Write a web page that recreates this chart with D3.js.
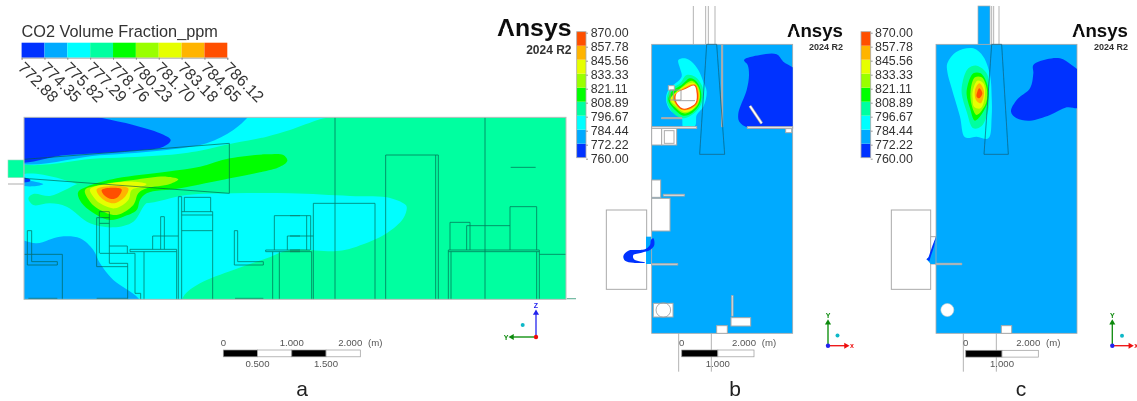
<!DOCTYPE html>
<html>
<head>
<meta charset="utf-8">
<script src="https://cdn.jsdelivr.net/npm/d3@7"></script>
<style>
    html, body { margin: 0; padding: 0; background: #fff; }
    text { font-family: "Liberation Sans", Arial, sans-serif; }
</style>
</head>
<body>
<svg id="target"></svg>
<script>
// Colours of the nine contour bands, low to high
let bandColors = ["#0033ff", "#00aaff", "#00ffff", "#00ffa0", "#00ff00", "#99ff00", "#e6ff00", "#ffb400", "#ff5000"];

// Legend of panel a
let legendTicksA = ["772.88", "774.35", "775.82", "777.29", "778.76", "780.23", "781.70", "783.18", "784.65", "786.12"];
// Legend of panels b and c
let legendTicksBC = [760, 772.22, 784.44, 796.67, 808.89, 821.11, 833.33, 845.56, 857.78, 870];

// Scale bar values
let scaleBlocksA = [[0, 0.5, "#000"], [0.5, 1, "#fff"], [1, 1.5, "#000"], [1.5, 2, "#fff"]];
let scaleBlocksBC = [[0, 1, "#000"], [1, 2, "#fff"]];
let panelLetters = ["a", "b", "c"];

function crop(x0, y0) {
    return {
        x: d3.scaleLinear().domain([0, 3]).range([x0, x0 + 1]),
        y: d3.scaleLinear().domain([0, 3]).range([y0, y0 + 1])
    };
}
let frameA = crop(0, 110), frameA2 = crop(290, 110);
let frameB = crop(600, 0), frameB2 = crop(600, 180), frameHot = crop(650, 50), frameVent = crop(600, 230);
let frameC = crop(860, 0), frameC2 = crop(860, 190);

// Panel a contours, painted in this order over a band 3 background
let aCyanTop = [[40, 150], [300, 145], [500, 135], [600, 122], [700, 100], [800, 80], [870, 60], [960, 28], [1000, 18], [1020, 0], [40, 0]];
let aSkyTop = [[40, 150], [300, 136], [500, 120], [620, 100], [700, 60], [745, 20], [760, 0], [40, 0]];
let aBlueTop = [[40, 150], [200, 135], [400, 122], [490, 110], [512, 90], [480, 70], [400, 45], [310, 25], [250, 10], [40, 10]];
let aCyanLow = [[40, 205], [240, 225], [300, 260], [430, 280], [560, 255], [700, 250], [870, 250], [1050, 258], [1160, 262], [1210, 280], [1220, 290], [1210, 325], [1160, 370], [1070, 410], [1010, 423], [870, 420], [800, 445], [700, 480], [600, 520], [550, 560], [535, 620], [40, 620]];
let aSkyLow = [[40, 392], [110, 400], [180, 380], [240, 385], [280, 420], [300, 460], [340, 510], [415, 565], [440, 620], [40, 620]];
let aBlueSmall = [[50, 202], [90, 208], [90, 214], [50, 214]];
let aSkySmall = [[60, 212], [130, 222], [100, 229], [60, 224]];
let aBand3 = [[85, 265], [100, 252], [150, 258], [195, 240], [240, 220], [300, 215], [440, 240], [450, 265], [430, 290], [400, 335], [340, 352], [270, 340], [200, 290], [150, 280], [100, 285]];
let aBand4 = [[235, 245], [260, 230], [350, 205], [500, 185], [600, 170], [690, 145], [800, 133], [850, 135], [862, 152], [840, 170], [780, 187], [690, 205], [540, 235], [440, 250], [420, 270], [410, 300], [370, 320], [330, 330], [290, 315], [250, 285], [235, 260]];
let aBand5 = [[255, 240], [300, 225], [400, 210], [500, 200], [535, 208], [510, 222], [440, 235], [415, 250], [400, 285], [350, 315], [300, 300], [270, 275]];
let aBand6 = [[270, 238], [320, 222], [400, 215], [440, 222], [420, 232], [395, 240], [385, 270], [345, 295], [300, 280], [280, 260]];
let aBand7 = [[290, 238], [340, 228], [385, 235], [375, 260], [340, 280], [305, 265]];
let aBand8 = [[305, 240], [335, 233], [365, 238], [355, 260], [335, 267], [315, 258]];

// Panel a wireframe, [x1, y1, x2, y2] in crop units
let aWireLeft = [
    [72, 148, 688, 100], [688, 100, 688, 250], [688, 250, 72, 205],
    [82, 362, 95, 362], [95, 362, 95, 455], [95, 455, 172, 455], [172, 455, 172, 465], [172, 465, 82, 465], [82, 465, 82, 362],
    [72, 433, 187, 433], [187, 433, 187, 568], [85, 565, 172, 565],
    [298, 305, 328, 305], [298, 305, 298, 430], [328, 305, 328, 460], [290, 323, 328, 323], [290, 323, 290, 470], [290, 470, 383, 470],
    [298, 340, 328, 340], [328, 408, 382, 408], [382, 408, 382, 430], [300, 430, 405, 430], [405, 430, 405, 550], [328, 460, 383, 460],
    [383, 460, 383, 568], [290, 565, 383, 565], [405, 550, 422, 550], [422, 550, 422, 568],
    [390, 418, 530, 418], [530, 418, 530, 425], [530, 425, 390, 425], [390, 425, 390, 418], [432, 425, 432, 568], [530, 425, 530, 568],
    [458, 418, 458, 378], [458, 378, 535, 378], [482, 320, 482, 418], [493, 320, 493, 418], [482, 320, 493, 320],
    [535, 260, 545, 260], [535, 260, 535, 568], [545, 260, 545, 568], [545, 305, 638, 305], [545, 315, 638, 315], [638, 305, 638, 568],
    [553, 262, 632, 262], [553, 262, 553, 305], [632, 262, 632, 305], [545, 362, 638, 362],
    [703, 362, 713, 362], [713, 362, 713, 455], [713, 455, 790, 455], [790, 455, 790, 465], [790, 465, 703, 465], [703, 465, 703, 362], [705, 565, 790, 565],
    [823, 317, 900, 317], [823, 317, 823, 420], [862, 378, 900, 378], [862, 378, 862, 420], [797, 420, 900, 420], [797, 425, 900, 425], [797, 420, 797, 425],
    [818, 425, 818, 568], [838, 425, 838, 568]
];
let aWireRight = [
    [0, 420, 60, 420], [0, 425, 65, 425], [65, 425, 65, 568], [70, 280, 70, 568], [50, 317, 50, 420], [62, 317, 62, 420], [0, 317, 62, 317], [0, 378, 70, 378],
    [70, 280, 255, 280], [255, 280, 255, 568], [135, 22, 135, 568],
    [287, 135, 445, 135], [287, 135, 287, 568], [437, 135, 437, 568], [445, 135, 445, 568],
    [480, 337, 540, 337], [480, 337, 480, 420], [540, 337, 540, 420], [530, 347, 660, 347], [530, 347, 530, 420],
    [660, 290, 740, 290], [660, 290, 660, 420], [740, 290, 740, 420], [475, 420, 748, 420], [475, 425, 748, 425], [475, 420, 475, 568], [483, 425, 483, 568],
    [740, 425, 740, 568], [748, 420, 748, 568], [748, 433, 828, 433], [585, 22, 585, 568], [662, 172, 737, 172]
];
let aTail = [[830, 566, 858, 566]];

// Panel b contours
let bBlue = [[432, 180], [480, 165], [530, 163], [550, 185], [590, 215], [590, 378], [570, 383], [445, 383], [418, 365], [415, 340], [440, 270], [447, 225], [443, 195]];
let bHotBands = [
    [2, [[85, 30], [105, 25], [125, 35], [145, 60], [160, 95], [170, 125], [160, 170], [140, 195], [135, 228], [100, 232], [95, 205], [60, 180], [48, 150], [55, 120], [95, 80], [90, 55]]],
    [3, [[110, 75], [135, 80], [155, 105], [160, 135], [150, 170], [125, 195], [100, 205], [70, 190], [50, 150], [60, 120], [90, 100]]],
    [4, [[120, 85], [140, 95], [153, 125], [150, 160], [125, 190], [100, 197], [75, 180], [55, 150], [65, 125], [95, 105]]],
    [5, [[125, 92], [145, 110], [150, 135], [143, 165], [120, 185], [100, 190], [75, 172], [60, 150], [95, 112]]],
    [6, [[130, 98], [146, 120], [147, 150], [125, 180], [100, 185], [78, 168], [62, 148], [100, 110]]],
    [7, [[135, 103], [146, 125], [143, 160], [120, 178], [95, 180], [75, 160], [70, 140], [105, 112]]],
    [8, [[135, 105], [144, 130], [140, 160], [118, 176], [95, 178], [75, 155], [75, 135], [108, 113]]]
];
let bHotHole = [[133, 107], [140, 130], [137, 158], [115, 173], [97, 175], [78, 153], [80, 130], [108, 116]];
let bVentBlue = [[160, 25], [163, 45], [150, 60], [125, 68], [100, 75], [102, 88], [135, 98], [100, 98], [75, 92], [70, 78], [85, 62], [110, 60], [135, 58], [150, 45], [153, 30]];

// Panel b solids, [x1, y1, x2, y2]
let bBoxes = [[155, 385, 185, 435], [185, 385, 230, 435], [193, 392, 222, 430], [557, 386, 575, 398], [442, 380, 578, 385], [155, 380, 290, 385], [185, 353, 245, 356], [365, 135, 368, 380]];
let bBoxes2 = [[19, 90, 140, 328], [155, 0, 182, 52], [155, 55, 210, 153], [190, 43, 253, 48], [155, 251, 233, 255], [160, 370, 219, 411], [395, 347, 399, 408], [393, 413, 452, 438], [350, 437, 382, 460]];
let bGrey = [[280, 18, 280, 133], [317, 18, 317, 133], [325, 18, 325, 133], [345, 18, 345, 133]];
let bGrey2 = [[236, 460, 236, 575], [334, 460, 334, 575]];
let bDuct = [[320, 133], [350, 133], [374, 463], [299, 463]];
let bSlant = [[450, 318, 485, 370]];
let bHotBoxes = [[55, 107, 73, 120]];
let bHotWire = [[60, 120, 93, 120], [93, 120, 93, 150], [93, 150, 60, 150], [60, 150, 60, 120], [70, 120, 70, 150], [72, 152, 135, 152]];

// Panel c contours
let cBlue = [[520, 195], [560, 178], [600, 175], [635, 195], [660, 220], [660, 322], [620, 322], [570, 345], [510, 362], [470, 355], [453, 335], [470, 300], [510, 265], [520, 220]];
let cBands = [
    [2, [[262, 190], [290, 155], [340, 145], [370, 170], [390, 225], [395, 290], [395, 350], [385, 415], [350, 410], [315, 412], [300, 350], [275, 265], [262, 215]]],
    [3, [[308, 245], [325, 205], [350, 197], [380, 220], [388, 290], [385, 330], [365, 378], [340, 385], [320, 335], [305, 280]]],
    [4, [[322, 260], [340, 220], [362, 220], [382, 255], [382, 310], [345, 362], [330, 325], [320, 285]]],
    [5, [[332, 270], [345, 232], [365, 232], [380, 265], [378, 310], [350, 345], [335, 315]]],
    [6, [[338, 275], [352, 242], [370, 250], [375, 285], [362, 325], [342, 320], [338, 295]]],
    [7, [[345, 270], [358, 250], [372, 275], [362, 310], [348, 300]]],
    [8, [[352, 275], [358, 265], [367, 280], [358, 295], [350, 290]]]
];
let cVentSky = [[228, 140], [212, 195], [200, 208], [212, 222], [228, 222]];
let cSliver = [[228, 140], [218, 165], [205, 203], [199, 208], [208, 214], [213, 197], [222, 170]];
let cDuct = [[395, 133], [425, 133], [445, 463], [372, 463]];
let cGrey = [[395, 18, 395, 133], [401, 18, 401, 133], [417, 18, 417, 133]];
let cGrey2 = [[310, 430, 310, 545], [409, 430, 409, 545]];
let cBoxes2 = [[94, 60, 212, 298], [212, 140, 228, 222], [228, 220, 305, 224], [424, 407, 455, 430]];

let svg = d3.select("#target").attr("width", 1137).attr("height", 401);
// The reference is a soft upscaled image, a small blur gets the same look
svg.append("filter").attr("id", "soft").append("feGaussianBlur").attr("stdDeviation", 0.6);
let root = svg.append("g").attr("filter", "url(#soft)");

function area(g, pts, frame, fill, closedLine) {
    let line = d3.line()
        .x(d => frame.x(d[0]))
        .y(d => frame.y(d[1]))
        .curve(closedLine ? d3.curveLinearClosed : d3.curveCatmullRomClosed);
    return g.append("path").attr("d", line(pts)).attr("fill", fill);
}

function wire(g, segs, frame, color, w) {
    g.append("g").selectAll("line")
        .data(segs)
        .enter()
        .append("line")
        .attr("x1", d => frame.x(d[0]))
        .attr("y1", d => frame.y(d[1]))
        .attr("x2", d => frame.x(d[2]))
        .attr("y2", d => frame.y(d[3]))
        .attr("stroke", color)
        .attr("stroke-width", w);
}

function boxes(g, list, frame) {
    g.append("g").selectAll("rect")
        .data(list)
        .enter()
        .append("rect")
        .attr("x", d => frame.x(d[0]))
        .attr("y", d => frame.y(d[1]))
        .attr("width", d => frame.x(d[2]) - frame.x(d[0]))
        .attr("height", d => frame.y(d[3]) - frame.y(d[1]))
        .attr("fill", "#fff")
        .attr("stroke", "#aaa")
        .attr("stroke-width", 1);
}

function logo(left, right, base, size, subBase, subSize) {
    let w = right - left;
    root.append("text").attr("x", left).attr("y", base)
        .attr("textLength", w).attr("lengthAdjust", "spacingAndGlyphs")
        .attr("font-size", size).attr("font-weight", "bold").attr("fill", "#111")
        .text("Ansys");
    // The logo A has no crossbar
    let midA = left + w * 0.12;
    root.append("rect").attr("x", midA - size * 0.13).attr("width", size * 0.26)
        .attr("y", base - size * 0.31).attr("height", size * 0.31)
        .attr("fill", "#fff");
    root.append("text").attr("x", right).attr("y", subBase)
        .attr("text-anchor", "end")
        .attr("font-size", subSize).attr("font-weight", "bold").attr("fill", "#333")
        .text("2024 R2");
}

// Vertical legend of panels b and c
function legendBC(barX, barW, labelX) {
    let y = d3.scaleLinear().domain([0, 9]).range([157.7, 31.7]);
    root.append("g").selectAll("rect")
        .data(bandColors)
        .enter()
        .append("rect")
        .attr("x", barX)
        .attr("width", barW)
        .attr("y", (d, i) => y(i + 1))
        .attr("height", (d, i) => y(i) - y(i + 1))
        .attr("fill", d => d);
    root.append("rect").attr("x", barX).attr("y", 31.7).attr("width", barW).attr("height", 126)
        .attr("fill", "none").attr("stroke", "#aaa").attr("stroke-width", 0.8);
    let labels = d3.scalePoint().domain(legendTicksBC.map(d => d.toFixed(2))).range([158.7, 32.7]);
    let axis = root.append("g")
        .attr("transform", "translate(" + (barX + barW) + ",0)")
        .call(d3.axisRight(labels).tickSize(2).tickPadding(labelX - barX - barW - 2));
    axis.select(".domain").remove();
    axis.selectAll("line").attr("stroke", "#999");
    axis.selectAll("text").attr("font-size", 12.4).attr("fill", "#333")
        .attr("font-family", "Liberation Sans");
}

function scaleBar(x0, x1, blocks, frameY, tops, bottoms) {
    let x = d3.scaleLinear().domain([0, 2]).range([x0, x1]);
    root.append("g").selectAll("rect")
        .data(blocks)
        .enter()
        .append("rect")
        .attr("x", d => x(d[0]))
        .attr("y", frameY)
        .attr("width", d => x(d[1]) - x(d[0]))
        .attr("height", 6.8)
        .attr("fill", d => d[2])
        .attr("stroke", "#999")
        .attr("stroke-width", 0.7);
    root.append("g").selectAll("text")
        .data(tops)
        .enter()
        .append("text")
        .attr("x", d => x(d[0]) + d[2])
        .attr("y", frameY - 4.5)
        .attr("text-anchor", "middle")
        .attr("font-size", 9.6).attr("fill", "#555")
        .text(d => d[1]);
    root.append("g").selectAll("text.low")
        .data(bottoms)
        .enter()
        .append("text")
        .attr("class", "low")
        .attr("x", d => x(d[0]))
        .attr("y", frameY + 17)
        .attr("text-anchor", "middle")
        .attr("font-size", 9.6).attr("fill", "#555")
        .text(d => d[1]);
}

function triad(ox, oy, hx, hy, hColor, hLabel, vColor, vLabel, dotX, dotY, oColor) {
    let g = root.append("g");
    g.append("line").attr("x1", ox).attr("y1", oy).attr("x2", ox + hx).attr("y2", oy).attr("stroke", hColor).attr("stroke-width", 1.3);
    g.append("line").attr("x1", ox).attr("y1", oy).attr("x2", ox).attr("y2", oy + hy).attr("stroke", vColor).attr("stroke-width", 1.3);
    let sym = d3.symbol().type(d3.symbolTriangle).size(16);
    g.append("path").attr("d", sym()).attr("fill", hColor)
        .attr("transform", "translate(" + (ox + hx) + "," + oy + ") rotate(" + (hx > 0 ? 90 : -90) + ")");
    g.append("path").attr("d", sym()).attr("fill", vColor)
        .attr("transform", "translate(" + ox + "," + (oy + hy) + ")");
    g.append("circle").attr("cx", ox).attr("cy", oy).attr("r", 2.2).attr("fill", oColor);
    g.append("circle").attr("cx", dotX).attr("cy", dotY).attr("r", 2).attr("fill", "#10b8c8");
    g.append("text").attr("x", ox + hx + (hx > 0 ? 6 : -6)).attr("y", oy + 2.5).attr("text-anchor", "middle")
        .attr("font-size", 7).attr("font-weight", "bold").attr("fill", hColor).text(hLabel);
    g.append("text").attr("x", ox).attr("y", oy + hy - 5).attr("text-anchor", "middle")
        .attr("font-size", 7).attr("font-weight", "bold").attr("fill", vColor).text(vLabel);
}

// ---- Panel a ----
svg.append("clipPath").attr("id", "clipA").append("rect")
    .attr("x", frameA.x(72)).attr("y", frameA.y(22))
    .attr("width", frameA.x(1698) - frameA.x(72)).attr("height", frameA.y(568) - frameA.y(22));
let panelA = root.append("g");
panelA.append("rect").attr("x", frameA.x(24)).attr("y", frameA.y(150))
    .attr("width", frameA.x(72) - frameA.x(24)).attr("height", frameA.y(203) - frameA.y(150))
    .attr("fill", bandColors[3]).attr("stroke", "#9ad8c0").attr("stroke-width", 0.6);
wire(panelA, [[24, 222, 72, 222]], frameA, "#bbb", 1.2);
let fieldA = panelA.append("g").attr("clip-path", "url(#clipA)");
fieldA.append("rect").attr("x", 0).attr("y", 0).attr("width", 700).attr("height", 401).attr("fill", bandColors[3]);
area(fieldA, aCyanTop, frameA, bandColors[2]);
area(fieldA, aSkyTop, frameA, bandColors[1]);
area(fieldA, aBlueTop, frameA, bandColors[0]);
area(fieldA, aCyanLow, frameA, bandColors[2]);
area(fieldA, aSkyLow, frameA, bandColors[1]);
area(fieldA, aSkySmall, frameA, bandColors[1]);
area(fieldA, aBlueSmall, frameA, bandColors[0]);
area(fieldA, aBand3, frameA, bandColors[3]);
area(fieldA, aBand4, frameA, bandColors[4]);
area(fieldA, aBand5, frameA, bandColors[5]);
area(fieldA, aBand6, frameA, bandColors[6]);
area(fieldA, aBand7, frameA, bandColors[7]);
area(fieldA, aBand8, frameA, bandColors[8]);
let wiresA = panelA.append("g").attr("opacity", 0.8);
wire(wiresA, aWireLeft, frameA, "#0b5c48", 0.8);
wire(wiresA, aWireRight, frameA2, "#0b5c48", 0.8);
wire(panelA, aTail, frameA2, "#6fb8a0", 1.2);
panelA.append("rect").attr("x", frameA.x(72)).attr("y", frameA.y(22))
    .attr("width", frameA.x(1698) - frameA.x(72)).attr("height", frameA.y(568) - frameA.y(22))
    .attr("fill", "none").attr("stroke", "#bbb").attr("stroke-width", 1);

// Horizontal legend of panel a
root.append("text").attr("x", 21.5).attr("y", 36.5).attr("font-size", 16.3).attr("fill", "#333")
    .text("CO2 Volume Fraction_ppm");
let legendX = d3.scalePoint().domain(legendTicksA).range([21.6, 227.3]);
root.append("g").selectAll("rect")
    .data(bandColors)
    .enter()
    .append("rect")
    .attr("x", (d, i) => legendX(legendTicksA[i]))
    .attr("y", 42.7)
    .attr("width", legendX.step())
    .attr("height", 15)
    .attr("fill", d => d);
let legendAxis = root.append("g")
    .attr("transform", "translate(0,57.7)")
    .call(d3.axisBottom(legendX).tickSize(2));
legendAxis.select(".domain").attr("stroke", "#aaa");
legendAxis.selectAll("line").attr("stroke", "#888");
legendAxis.selectAll("text")
    .attr("transform", "translate(-5,11) rotate(45)")
    .attr("x", 0).attr("y", 0).attr("dy", 0)
    .attr("text-anchor", "start")
    .attr("font-size", 16).attr("fill", "#333")
    .attr("font-family", "Liberation Sans");

logo(497, 571.5, 36, 23, 54, 12);
legendBC(576.7, 9.3, 590.7);
scaleBar(223.3, 360.3, scaleBlocksA, 350,
    [[0, "0", 0], [1, "1.000", 0], [2, "2.000", -10], [2, "(m)", 15]],
    [[0.5, "0.500"], [1.5, "1.500"]]);
triad(536, 337, -24, -24, "#0a8a0a", "Y", "#2222ee", "Z", 522.7, 325, "#ee1111");

// ---- Panel b ----
let panelB = root.append("g");
wire(panelB, bGrey, frameB, "#aaa", 0.9);
wire(panelB, bGrey2, frameB2, "#aaa", 0.9);
boxes(panelB, [[19, 90, 140, 328]], frameB2);
area(panelB, [[138, 170], [155, 170], [155, 252], [138, 252]], frameB2, bandColors[1], true);
panelB.append("rect").attr("x", frameB.x(155)).attr("y", frameB.y(133))
    .attr("width", frameB.x(578) - frameB.x(155)).attr("height", frameB2.y(460) - frameB.y(133))
    .attr("fill", bandColors[1]).attr("stroke", "#aaa").attr("stroke-width", 0.8);
svg.append("clipPath").attr("id", "clipB").append("rect")
    .attr("x", frameB.x(155)).attr("y", frameB.y(133))
    .attr("width", frameB.x(578) - frameB.x(155)).attr("height", frameB2.y(460) - frameB.y(133));
area(panelB.append("g").attr("clip-path", "url(#clipB)"), bBlue, frameB, bandColors[0]);
bHotBands.forEach(d => area(panelB, d[1], frameHot, bandColors[d[0]]));
area(panelB, bHotHole, frameHot, "#fff");
boxes(panelB, bHotBoxes, frameHot);
wire(panelB, bHotWire, frameHot, "#999", 0.9);
boxes(panelB, bBoxes, frameB);
boxes(panelB, bBoxes2.slice(1), frameB2);
wire(panelB, bSlant, frameB, "#aaa", 3);
wire(panelB, bSlant, frameB, "#fff", 1.6);
panelB.append("circle").attr("cx", frameB2.x(190)).attr("cy", frameB2.y(390)).attr("r", 7.3)
    .attr("fill", "none").attr("stroke", "#999").attr("stroke-width", 0.8);
area(panelB, bVentBlue, frameVent, bandColors[0]);
area(panelB, bDuct, frameB, "none", true).attr("stroke", "#0d5f7a").attr("stroke-width", 0.7);
logo(787, 843, 36.5, 17.5, 50, 9);
legendBC(861, 9.7, 875);
scaleBar(681.7, 754, scaleBlocksBC, 350,
    [[0, "0", 0], [2, "2.000", -10], [2, "(m)", 15]],
    [[1, "1.000"]]);
triad(828, 345.7, 18, -23, "#ee1111", "x", "#0a8a0a", "Y", 837.5, 335.5, "#2222ee");

// ---- Panel c ----
let panelC = root.append("g");
wire(panelC, cGrey, frameC, "#aaa", 0.9);
wire(panelC, cGrey2, frameC2, "#aaa", 0.9);
boxes(panelC, cBoxes2.slice(0, 2), frameC2);
panelC.append("rect").attr("x", frameC.x(354)).attr("y", frameC.y(18))
    .attr("width", frameC.x(390) - frameC.x(354)).attr("height", frameC.y(133) - frameC.y(18))
    .attr("fill", bandColors[1]).attr("stroke", "#aaa").attr("stroke-width", 0.7);
area(panelC, cVentSky, frameC2, bandColors[1], true);
panelC.append("rect").attr("x", frameC.x(228)).attr("y", frameC.y(133))
    .attr("width", frameC.x(651) - frameC.x(228)).attr("height", frameC2.y(430) - frameC.y(133))
    .attr("fill", bandColors[1]).attr("stroke", "#aaa").attr("stroke-width", 0.8);
svg.append("clipPath").attr("id", "clipC").append("rect")
    .attr("x", frameC.x(228)).attr("y", frameC.y(133))
    .attr("width", frameC.x(651) - frameC.x(228)).attr("height", frameC2.y(430) - frameC.y(133));
area(panelC.append("g").attr("clip-path", "url(#clipC)"), cBlue, frameC, bandColors[0]);
cBands.forEach(d => area(panelC, d[1], frameC, bandColors[d[0]]));
area(panelC, cSliver, frameC2, bandColors[0], true);
boxes(panelC, cBoxes2.slice(2), frameC2);
panelC.append("circle").attr("cx", frameC2.x(262)).attr("cy", frameC2.y(360)).attr("r", 6.5)
    .attr("fill", "#fff").attr("stroke", "#ccc").attr("stroke-width", 0.6);
area(panelC, cDuct, frameC, "none", true).attr("stroke", "#0d5f7a").attr("stroke-width", 0.7);
logo(1072, 1128, 36.5, 17.5, 50, 9);
scaleBar(965.7, 1038.3, scaleBlocksBC, 350.3,
    [[0, "0", 0], [2, "2.000", -10], [2, "(m)", 15]],
    [[1, "1.000"]]);
triad(1112.3, 345.7, 18, -23, "#ee1111", "x", "#0a8a0a", "Y", 1122, 335.7, "#2222ee");

// Panel letters
let letterX = [302, 735, 1021];
root.append("g").selectAll("text.letter")
    .data(panelLetters)
    .enter()
    .append("text")
    .attr("class", "letter")
    .attr("x", (d, i) => letterX[i])
    .attr("y", 396)
    .attr("text-anchor", "middle")
    .attr("font-size", 21).attr("fill", "#222")
    .text(d => d);
</script>
</body>
</html>
